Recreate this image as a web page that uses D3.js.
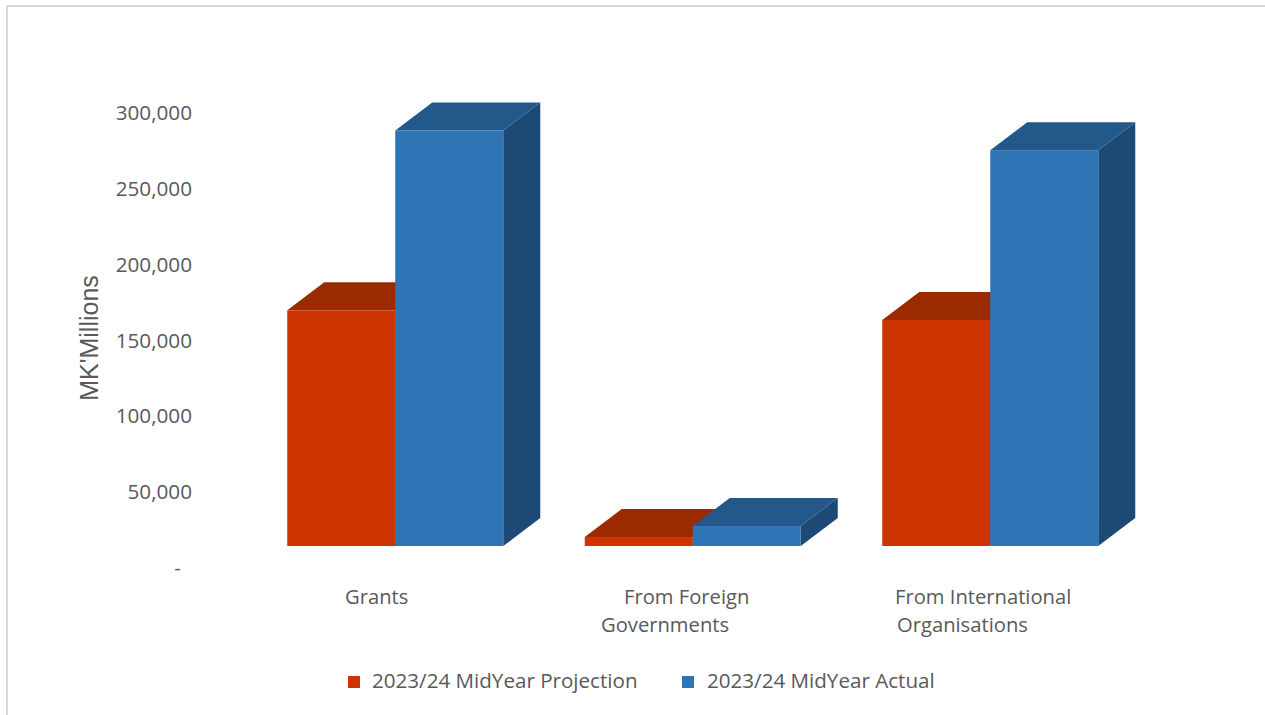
<!DOCTYPE html>
<html>
<head>
<meta charset="utf-8">
<script src="https://cdn.jsdelivr.net/npm/d3@7"></script>
<style>
  html, body { margin: 0; padding: 0; background: #fff; }
  svg { display: block; }
  text { font-family: "Open Sans", sans-serif; fill: #595959; }
</style>
</head>
<body>
<svg id="chart" width="1265" height="715"></svg>
<script>
// Grant revenue by source, MK millions
const categories = ["Grants", "From Foreign Governments", "From International Organisations"];
const seriesNames = ["2023/24 MidYear Projection", "2023/24 MidYear Actual"];
const projection = [155400, 5900, 149000];
const actual = [274000, 13200, 261000];
const yTicks = [0, 50000, 100000, 150000, 200000, 250000, 300000];
const categoryLines = [["Grants"], ["From Foreign", "Governments"], ["From International", "Organisations"]];

const frontFill = ["#cc3300", "#2e75b6"];
const topFill = ["#9c2a00", "#22588a"];
const sideFill = ["#7a2000", "#1c4a74"];

const svg = d3.select("#chart");
const depthX = 37, depthY = 28;

// Chart frame: only the top and left edges fall inside the canvas
svg.append("path").attr("d", "M7,715V6H1265")
  .attr("fill", "none").attr("stroke", "#d9d9d9").attr("stroke-width", 2);

const x0 = d3.scaleBand().domain(categories).range([246.5, 1139]);
const x1 = d3.scaleBand().domain(seriesNames).range([40.75, 256.75]);
const y = d3.scaleLinear().domain([0, 300000]).range([546, 91]);

// Value axis sits slightly below the front plane of the columns
const axis = d3.axisLeft(y).tickValues(yTicks).tickSize(0).tickPadding(0)
  .tickFormat(d => d === 0 ? "-" : d3.format(",")(d));
const axisG = svg.append("g").attr("transform", "translate(192,22)").call(axis);
axisG.select(".domain").remove();
axisG.selectAll("text").style("font-size", "20.7px")
  .style("font-family", '"Open Sans", sans-serif').attr("fill", "#595959")
  .attr("dx", d => d === 0 ? -11 : 0);

svg.append("text")
  .attr("transform", "translate(89,338) rotate(-90)")
  .attr("text-anchor", "middle").attr("dominant-baseline", "central")
  .style("font-family", '"Liberation Sans", sans-serif')
  .style("font-size", "25px").text("MK'Millions");

// Extruded columns: red series first so the blue series overlaps its top and side
const series = [projection, actual];
series.forEach((values, s) => {
  const name = seriesNames[s];
  const g = svg.append("g").selectAll("g").data(categories).join("g")
    .attr("transform", c => `translate(${x0(c) + x1(name)},0)`);
  const w = x1.bandwidth();
  const top = (d, i) => y(values[i]);
  g.append("path").attr("fill", sideFill[s])
    .attr("d", (c, i) => `M${w},${top(c, i)}l${depthX},${-depthY}V${y(0) - depthY}L${w},${y(0)}Z`);
  g.append("path").attr("fill", topFill[s])
    .attr("d", (c, i) => `M0,${top(c, i)}l${depthX},${-depthY}h${w}l${-depthX},${depthY}Z`);
  g.append("rect").attr("fill", frontFill[s]).attr("width", w)
    .attr("y", (c, i) => top(c, i)).attr("height", (c, i) => y(0) - top(c, i));
});

// Category labels, one entry per line, placed by hand as in a manually wrapped axis
const lineStarts = [[345], [624, 601], [895, 897]];
categoryLines.forEach((lines, i) => {
  lines.forEach((line, j) => {
    svg.append("text").attr("x", lineStarts[i][j]).attr("y", 604 + j * 28)
      .style("font-size", "20.2px").text(line);
  });
});

// Legend
const legendX = [348, 682];
seriesNames.forEach((name, i) => {
  svg.append("rect").attr("x", legendX[i]).attr("y", 676).attr("width", 12).attr("height", 12)
    .attr("fill", frontFill[i]);
  svg.append("text").attr("x", legendX[i] + 24 + (i ? 1 : 0)).attr("y", 688)
    .style("font-size", "20.6px").text(name);
});
</script>
</body>
</html>
